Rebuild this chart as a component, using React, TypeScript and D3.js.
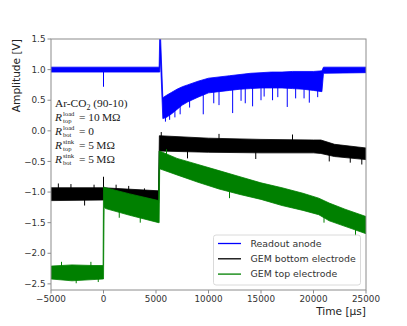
import React, { useEffect, useRef } from 'react';
import * as d3 from 'd3';

// readout anode envelope (upper / lower edge of the noisy trace)
const blueTime = [-5000, 5300, 5360, 5420, 5650, 6000, 6500, 7000, 7500, 8000, 9000, 10000, 11000, 12000, 13000, 14000, 15000, 16000, 17000, 18000, 19000, 20000, 20800, 20950, 25000];
const blueUpper = [1.04, 1.04, 1.6, 1.6, 0.54, 0.58, 0.63, 0.68, 0.72, 0.75, 0.81, 0.86, 0.88, 0.9, 0.92, 0.94, 0.95, 0.96, 0.96, 0.97, 0.97, 0.97, 0.98, 1.04, 1.04];
const blueLower = [0.96, 0.96, 0.96, 1.2, 0.2, 0.22, 0.28, 0.35, 0.42, 0.47, 0.55, 0.62, 0.64, 0.66, 0.68, 0.69, 0.7, 0.7, 0.7, 0.69, 0.68, 0.66, 0.64, 0.94, 0.95];
const blueSpikeTime = [0, 5900, 6300, 6800, 7300, 8200, 9500, 10500, 11000, 12300, 13100, 13500, 14200, 15000, 15300, 16100, 16600, 17500, 18300, 19100, 19600, 20400];
const blueSpikeValue = [0.72, 0.15, 0.18, 0.22, 0.27, 0.38, 0.27, 0.45, 0.42, 0.29, 0.49, 0.45, 0.4, 0.5, 0.56, 0.5, 0.55, 0.39, 0.53, 0.53, 0.46, 0.55];

// GEM bottom electrode
const blackTime = [-5000, 0, 5250, 5320, 10000, 15000, 20000, 20700, 22000, 25000];
const blackUpper = [-0.93, -0.93, -0.98, -0.08, -0.12, -0.14, -0.15, -0.15, -0.22, -0.28];
const blackLower = [-1.14, -1.13, -1.18, -0.33, -0.35, -0.36, -0.36, -0.37, -0.42, -0.47];
const blackSpikeTime = [-4300, -3100, -1800, -900, 0, 1200, 2400, 3900, 5500, 8000, 11000, 14500, 18000, 21500, 23500, 24600];
const blackSpikeValue = [-0.86, -0.87, -1.22, -0.88, -0.75, -0.88, -0.9, -0.94, -0.02, -0.45, -0.05, -0.46, -0.06, -0.5, -0.52, -0.55];

// GEM top electrode
const greenTime = [-5000, -3000, -1000, -40, 0, 60, 200, 2500, 5250, 5300, 5350, 7000, 9000, 11000, 13000, 15000, 17000, 19000, 20500, 21500, 23000, 25000];
const greenUpper = [-2.21, -2.19, -2.2, -2.2, -0.92, -0.92, -0.93, -1.03, -1.14, -0.33, -0.33, -0.45, -0.55, -0.65, -0.75, -0.85, -0.93, -1.02, -1.1, -1.18, -1.28, -1.4];
const greenLower = [-2.42, -2.45, -2.43, -2.42, -2.42, -1.25, -1.27, -1.38, -1.5, -1.5, -0.62, -0.72, -0.84, -0.95, -1.04, -1.12, -1.22, -1.3, -1.37, -1.47, -1.56, -1.68];
const greenSpikeTime = [-4000, -2600, -1200, -500, 1500, 3500, 6000, 12000, 21000, 24000];
const greenSpikeValue = [-2.14, -2.49, -2.14, -2.47, -1.42, -1.5, -0.3, -1.1, -1.5, -1.72];

const xTicks = [-5000, 0, 5000, 10000, 15000, 20000, 25000];
const yTicks = [1.5, 1.0, 0.5, 0.0, -0.5, -1.0, -1.5, -2.0, -2.5];

const legendLabels = ['Readout anode', 'GEM bottom electrode', 'GEM top electrode'];
const colors = ['#0000ff', '#000000', '#008000'];

const App = () => {
  const svgRef = useRef<SVGSVGElement>(null);

  useEffect(() => {
    const svg = d3.select(svgRef.current);
    svg.selectAll('*').remove();

    const left = 51, right = 366, top = 39, bottom = 290;
    const x = d3.scaleLinear().domain([-5000, 25000]).range([left, right]);
    const y = d3.scaleLinear().domain([-2.6, 1.5]).range([bottom, top]);

    svg.append('clipPath').attr('id', 'plot-clip')
      .append('rect')
      .attr('x', left).attr('y', top)
      .attr('width', right - left).attr('height', bottom - top);

    const plot = svg.append('g').attr('clip-path', 'url(#plot-clip)');

    const series = [
      { t: blueTime, hi: blueUpper, lo: blueLower, st: blueSpikeTime, sv: blueSpikeValue },
      { t: blackTime, hi: blackUpper, lo: blackLower, st: blackSpikeTime, sv: blackSpikeValue },
      { t: greenTime, hi: greenUpper, lo: greenLower, st: greenSpikeTime, sv: greenSpikeValue },
    ];

    series.forEach((s, i) => {
      const pts = s.t.map((t, k) => ({ t, hi: s.hi[k], lo: s.lo[k] }));
      const area = d3.area<{ t: number; hi: number; lo: number }>()
        .x(d => x(d.t))
        .y0(d => y(d.lo))
        .y1(d => y(d.hi));
      plot.append('path')
        .attr('d', area(pts))
        .attr('fill', colors[i])
        .attr('stroke', colors[i])
        .attr('stroke-width', 0.8);

      // centre of the band, for anchoring the spikes
      const mid = d3.scaleLinear().domain(s.t).range(s.t.map((_, k) => (s.hi[k] + s.lo[k]) / 2));
      s.st.forEach((t, k) => {
        plot.append('line')
          .attr('x1', x(t)).attr('x2', x(t))
          .attr('y1', y(s.sv[k])).attr('y2', y(mid(t)))
          .attr('stroke', colors[i])
          .attr('stroke-width', 1);
      });
    });

    // axes
    const axisColor = '#8c8c8c';
    const tickFont = 'DejaVu Sans, sans-serif';

    svg.append('rect')
      .attr('x', left).attr('y', top)
      .attr('width', right - left).attr('height', bottom - top)
      .attr('fill', 'none').attr('stroke', axisColor).attr('stroke-width', 1);

    const fmtY = (v: number) => d3.format('.1f')(v).replace('-', '\u2212');
    const fmtX = (v: number) => String(v).replace('-', '\u2212');

    yTicks.forEach(v => {
      svg.append('line')
        .attr('x1', left - 3.5).attr('x2', left)
        .attr('y1', y(v)).attr('y2', y(v))
        .attr('stroke', axisColor);
      svg.append('text')
        .attr('x', left - 5.5).attr('y', y(v))
        .attr('dy', '0.35em')
        .attr('text-anchor', 'end')
        .style('font-family', tickFont).style('font-size', '8.8px')
        .style('fill', '#333')
        .text(fmtY(v));
    });

    xTicks.forEach(v => {
      svg.append('line')
        .attr('x1', x(v)).attr('x2', x(v))
        .attr('y1', bottom).attr('y2', bottom + 3.5)
        .attr('stroke', axisColor);
      svg.append('text')
        .attr('x', x(v)).attr('y', bottom + 12)
        .attr('text-anchor', 'middle')
        .style('font-family', tickFont).style('font-size', '8.8px')
        .style('fill', '#333')
        .text(fmtX(v));
    });

    svg.append('text')
      .attr('x', right).attr('y', 315)
      .attr('text-anchor', 'end')
      .style('font-family', tickFont).style('font-size', '10.6px')
      .style('fill', '#222')
      .text('Time [µs]');

    svg.append('text')
      .attr('transform', `translate(20,${top}) rotate(-90)`)
      .attr('text-anchor', 'end')
      .style('font-family', tickFont).style('font-size', '10.6px')
      .style('fill', '#222')
      .text('Amplitude [V]');

    // annotation
    const serif = 'Liberation Serif, serif';
    const note = svg.append('g').style('font-family', serif);
    const t1 = note.append('text').attr('x', 55).attr('y', 107)
      .style('font-size', '11.4px').style('fill', '#222');
    t1.append('tspan').text('Ar-CO');
    t1.append('tspan').attr('dy', 2.5).style('font-size', '8px').text('2');
    t1.append('tspan').attr('dy', -2.5).text(' (90-10)');

    const rows = [
      { sup: 'load', sub: 'top', val: '= 10\u2009M\u03A9' },
      { sup: 'load', sub: 'bot', val: '= 0' },
      { sup: 'sink', sub: 'top', val: '= 5\u2009M\u03A9' },
      { sup: 'sink', sub: 'bot', val: '= 5\u2009M\u03A9' },
    ];
    rows.forEach((r, i) => {
      const by = 121 + i * 14;
      const row = note.append('text').attr('x', 55).attr('y', by)
        .style('font-size', '11.4px').style('fill', '#222');
      row.append('tspan').style('font-style', 'italic').text('R');
      row.append('tspan').attr('x', 63).attr('y', by - 4.6)
        .style('font-size', '6.6px').text(r.sup);
      row.append('tspan').attr('x', 63).attr('y', by + 2.4)
        .style('font-size', '6.6px').text(r.sub);
      row.append('tspan').attr('x', 79).attr('y', by).text(r.val);
    });

    // legend
    const lg = svg.append('g');
    lg.append('rect')
      .attr('x', 213.5).attr('y', 235)
      .attr('width', 147).attr('height', 50)
      .attr('rx', 2.5)
      .attr('fill', 'white').attr('fill-opacity', 0.85)
      .attr('stroke', '#d0d0d0').attr('stroke-width', 0.8);
    legendLabels.forEach((label, i) => {
      const ly = 243.5 + i * 15.3;
      lg.append('line')
        .attr('x1', 218).attr('x2', 241)
        .attr('y1', ly).attr('y2', ly)
        .attr('stroke', colors[i]).attr('stroke-width', 1.3);
      lg.append('text')
        .attr('x', 250.5).attr('y', ly)
        .attr('dy', '0.35em')
        .style('font-family', tickFont).style('font-size', '9.4px')
        .style('fill', '#333')
        .text(label);
    });
  }, []);

  return (
    <svg
      ref={svgRef}
      width={407}
      height={326}
      style={{ position: 'absolute', left: 0, top: 0, background: 'white' }}
    />
  );
};

export default App;
